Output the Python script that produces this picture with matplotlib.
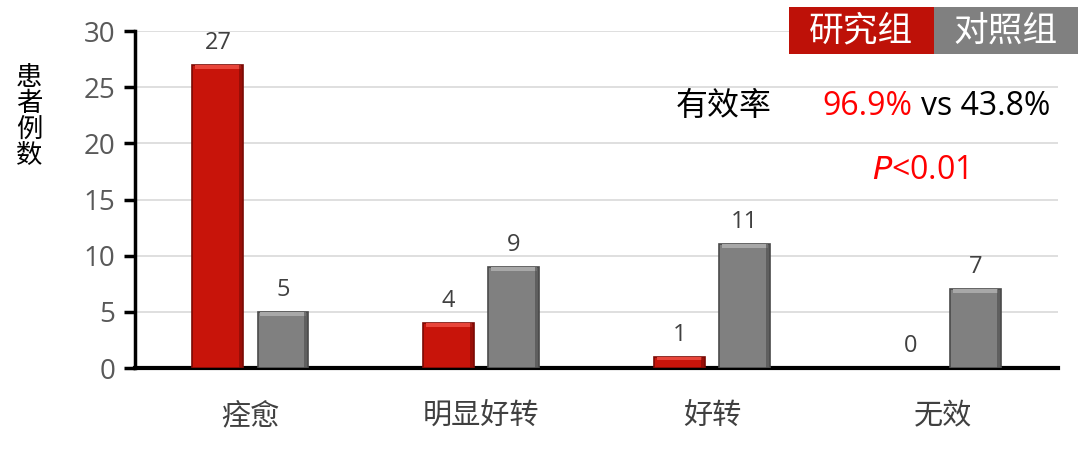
import numpy as np
import matplotlib.pyplot as plt
from matplotlib.patches import Rectangle

plt.rcParams['font.family'] = ['Open Sans', 'Noto Sans CJK SC', 'DejaVu Sans']

categories = ['痊愈', '明显好转', '好转', '无效']
study = [27, 4, 1, 0]
control = [5, 9, 11, 7]
yticks = [0, 5, 10, 15, 20, 25, 30]
legend_names = ['研究组', '对照组']

red = '#C8140A'
gray = '#808080'


def draw_bars(ax, xs, vals, color, dark, light):
    for xc, h in zip(xs, vals):
        if h <= 0:
            continue
        w = 0.22
        ax.bar(xc, h, width=w, color=color, edgecolor=dark, linewidth=1.2,
               zorder=3)
        # simple bevel: light top band, dark right band
        band = min(0.35, h * 0.3)
        ax.bar(xc, band, width=w * 0.9, bottom=h - band, color=light,
               linewidth=0, zorder=4)
        ax.bar(xc + w * 0.46, h, width=w * 0.08, color=dark, linewidth=0,
               alpha=0.6, zorder=4)


fig = plt.figure(figsize=(10.8, 4.51), dpi=100)
ax = fig.add_axes([0.125, 0.184, 0.855, 0.747])

x = np.arange(len(categories))
off = 0.141
draw_bars(ax, x - off, study, red, '#7A0A05', '#E8453A')
draw_bars(ax, x + off, control, gray, '#4A4A4A', '#A8A8A8')

for xi, v in zip(x - off, study):
    ax.text(xi, v + 0.9, str(v), ha='center', va='bottom', fontsize=17,
            color='#404040')
for xi, v in zip(x + off, control):
    ax.text(xi, v + 0.9, str(v), ha='center', va='bottom', fontsize=17,
            color='#404040')

ax.set_xlim(-0.5, 3.5)
ax.set_ylim(0, 30)
ax.set_yticks(yticks)
ax.set_xticks(x)
ax.set_xticklabels(categories, fontsize=21, color='#404040')
ax.tick_params(axis='x', length=0, pad=25)
ax.tick_params(axis='y', labelsize=20, labelcolor='#595959', length=8,
               width=2.5, direction='out', pad=6)
ax.yaxis.grid(True, color='#D9D9D9', linewidth=1.2, zorder=0)
ax.set_axisbelow(True)
for s in ['top', 'right']:
    ax.spines[s].set_visible(False)
ax.spines['left'].set_linewidth(2.5)
ax.spines['bottom'].set_linewidth(3)

fig.text(0.027, 0.74, '患\n者\n例\n数', ha='center', va='center', fontsize=19,
         linespacing=1.05, color='black')

# legend boxes
for i, (name, fc) in enumerate(zip(legend_names, ['#BE1108', '#808080'])):
    x0 = 0.7305 + i * 0.134
    fig.patches.append(Rectangle((x0, 0.880), 0.134, 0.104, transform=fig.transFigure,
                                 fc=fc, ec='none', zorder=5))
    fig.text(x0 + 0.067, 0.930, name, ha='center', va='center', fontsize=25,
             color='white', zorder=6)

fig.text(0.670, 0.763, '有效率', ha='center', va='center', fontsize=23,
         color='black')
fig.text(0.845, 0.763, '96.9%', ha='right', va='center', fontsize=23,
         color='#FF0000')
fig.text(0.853, 0.763, 'vs 43.8%', ha='left', va='center', fontsize=23,
         color='black')
fig.text(0.852, 0.622, r'$\it{P}$<0.01', ha='center', va='center', fontsize=23,
         color='#FF0000')

fig.savefig('out.png', dpi=100)
